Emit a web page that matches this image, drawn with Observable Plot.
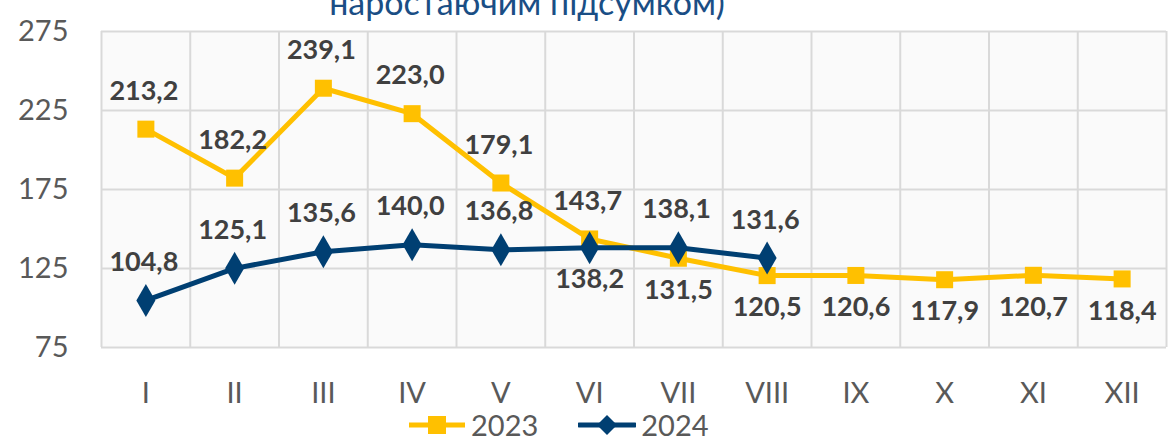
<!DOCTYPE html>
<html><head><meta charset="utf-8">
<script src="https://cdn.jsdelivr.net/npm/d3@7"></script>
<script src="https://cdn.jsdelivr.net/npm/@observablehq/plot@0.6"></script>
<style>
body{margin:0;background:#fff;}
#wrap{position:relative;width:1171px;height:440px;overflow:hidden;font-family:Lato,"Open Sans",sans-serif;}
#title{position:absolute;left:0;top:0;}
#legend{position:absolute;left:408px;top:410px;display:flex;align-items:center;color:#595959;font-size:29px;}
.item{display:flex;align-items:center;margin-right:40px;}
.item span{margin-left:5px;line-height:30px;}
</style></head><body><div id="wrap"></div>
<script>
const months = ["I","II","III","IV","V","VI","VII","VIII","IX","X","XI","XII"];
const values2023 = [213.2,182.2,239.1,223.0,179.1,143.7,131.5,120.5,120.6,117.9,120.7,118.4];
const values2024 = [104.8,125.1,135.6,140.0,136.8,138.2,138.1,131.6];
const labelPos2023 = ["top","top","top","top","top","top","bottom","bottom","bottom","bottom","bottom","bottom"];
const labelPos2024 = ["top","top","top","top","top","bottom","top","top"];
const yTicks = [75,125,175,225,275];
const seriesNames = ["2023","2024"];
const colors = ["#FFC000","#003F72"];
const titleText = "наростаючим підсумком)";

const fmt = v => d3.format(".1f")(v).replace(".", ",");
const d23 = values2023.map((v,i)=>({i:i+1, v, pos:labelPos2023[i], s:seriesNames[0]}));
const d24 = values2024.map((v,i)=>({i:i+1, v, pos:labelPos2024[i], s:seriesNames[1]}));
const bounds = d3.range(0, months.length + 1).map(k => k + 0.5);

const labelMarks = (data) => [
  Plot.text(data.filter(d=>d.pos==="top"), {x:"i", y:"v", text:d=>fmt(d.v), dy:-38, dx:-2, fill:"#404040", fontWeight:"bold", fontSize:27}),
  Plot.text(data.filter(d=>d.pos==="bottom"), {x:"i", y:"v", text:d=>fmt(d.v), dy:32, fill:"#404040", fontWeight:"bold", fontSize:27})
];

const chart = Plot.plot({
  width: 1171,
  height: 405,
  marginTop: 31,
  marginBottom: 58,
  marginLeft: 101,
  marginRight: 5,
  style: {fontFamily: "Lato, 'Open Sans', sans-serif", fontSize: "28px", color: "#595959", background: "transparent", overflow: "visible"},
  x: {domain: [0.5, months.length + 0.5], axis: null},
  y: {domain: [75, 275], axis: null},
  marks: [
    Plot.frame({fill: "#fafafa", stroke: null}),
    Plot.gridY(yTicks, {stroke: "#d9d9d9", strokeOpacity: 1, strokeWidth: 2}),
    Plot.ruleX(bounds, {stroke: "#d9d9d9", strokeWidth: 2}),
    Plot.axisY(yTicks, {tickSize: 0, tickPadding: 33, fontSize: 29, fill: "#595959", label: null}),
    Plot.axisX(d3.range(1, months.length + 1), {tickSize: 0, tickPadding: 35, fontSize: 29, fill: "#595959", label: null, tickFormat: d => months[d-1]}),
    Plot.line(d23, {x:"i", y:"v", stroke: colors[0], strokeWidth: 5}),
    Plot.dot(d23, {x:"i", y:"v", symbol:"square", r:9.6, fill: colors[0], stroke: null}),
    Plot.line(d24, {x:"i", y:"v", stroke: colors[1], strokeWidth: 5}),
    Plot.dot(d24, {x:"i", y:"v", symbol:"diamond", r:10, fill: colors[1], stroke: null}),
    ...labelMarks(d23),
    ...labelMarks(d24)
  ]
});

const wrap = document.getElementById("wrap");
wrap.appendChild(chart);

// title (only its last line is visible, clipped at the top)
const t = d3.create("svg").attr("id","title").attr("width",1171).attr("height",40);
t.append("text").attr("x",527).attr("y",15).attr("text-anchor","middle")
  .attr("font-family","Lato, 'Open Sans', sans-serif").attr("font-size",34).attr("fill","#1a4e85").text(titleText);
wrap.appendChild(t.node());

// legend
const leg = d3.select(wrap).append("div").attr("id","legend");
seriesNames.forEach((name, k) => {
  const it = leg.append("div").attr("class","item");
  const sw = it.append("svg").attr("width",58).attr("height",24);
  sw.append("line").attr("x1",1).attr("x2",57).attr("y1",12).attr("y2",12)
    .attr("stroke",colors[k]).attr("stroke-width",5).attr("stroke-linecap", k ? "round" : "butt");
  if (k === 0) sw.append("rect").attr("x",20).attr("y",3).attr("width",18).attr("height",18).attr("fill",colors[k]);
  else sw.append("path").attr("d","M29,2L39,12L29,22L19,12Z").attr("fill",colors[k]);
  it.append("span").text(name);
});
</script></body></html>
